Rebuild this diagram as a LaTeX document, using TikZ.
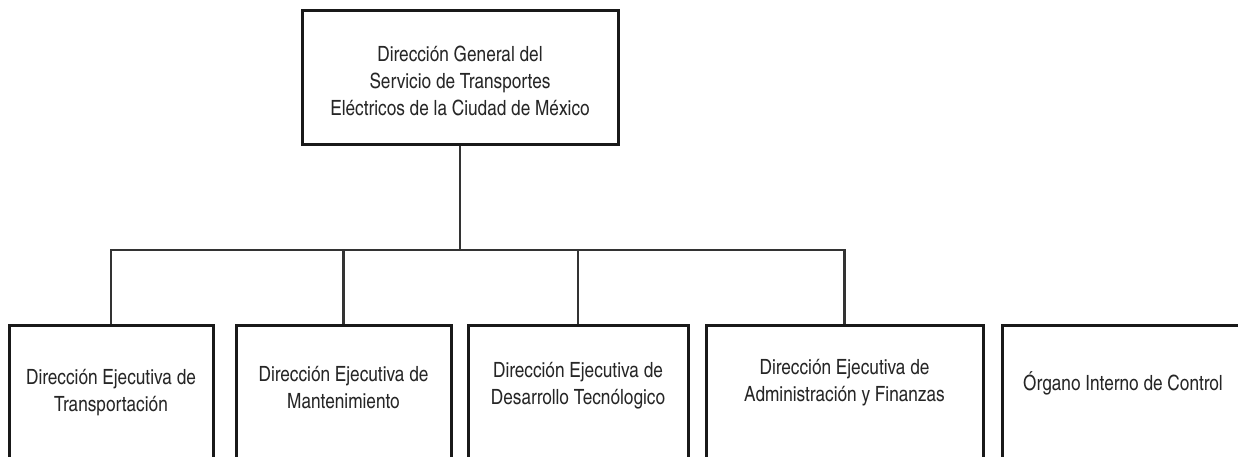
\documentclass[tikz,border=0pt]{standalone}
\usepackage{fontspec}
\setmainfont{texgyreheroscn}[Extension=.otf, UprightFont=*-regular, BoldFont=*-bold]
\usepackage{tikz}
\usetikzlibrary{positioning}

\begin{document}
\begin{tikzpicture}[x=1pt,y=-1pt,
  unitbox/.style={draw=black!90, line width=3pt, minimum height=146pt, anchor=north, inner sep=0pt},
  unittext/.style={align=center, font=\fontsize{21}{27}\selectfont, text=black!85},
  link/.style={draw=black!80, line width=2.3pt}]
\useasboundingbox (0,0) rectangle (1238,457);
\clip (0,0) rectangle (1238,457);
\fill[white] (0,0) rectangle (1238,457);
% direccion general
\node[unitbox, minimum width=316pt, minimum height=134pt] (dg) at (460,9) {};
\node[unittext] (dgtext) at (460,81) {Dirección General del\\Servicio de Transportes\\Eléctricos de la Ciudad de México};
% direcciones ejecutivas
\node[unitbox, minimum width=204pt] (trans) at (111,324) {};
\node[unitbox, minimum width=215pt] (mant) at (343.5,324) {};
\node[unitbox, minimum width=220pt] (desa) at (578,324) {};
\node[unitbox, minimum width=277pt] (admin) at (844.5,324) {};
\node[unitbox, minimum width=243pt] (oic) at (1123.5,324) {};
\node[unittext] (transtext) at (111,393) {Dirección Ejecutiva de\\Transportación};
\node[unittext] (manttext) at (343.5,388) {Dirección Ejecutiva de\\Mantenimiento};
\node[unittext] (desatext) at (578,386) {Dirección Ejecutiva de\\Desarrollo Tecnólogico};
\node[unittext] (admintext) at (844.5,383) {Dirección Ejecutiva de\\Administración y Finanzas};
\node[unittext] (oictext) at (1123,383) {Órgano Interno de Control};
% lineas
\coordinate (bus) at (460,250);
\draw[link] (dg.south) -- (bus);
\draw[link] (bus) -| (trans.north);
\draw[link] (bus) -| (mant.north);
\draw[link] (bus) -| (desa.north);
\draw[link] (bus) -| (admin.north);
\end{tikzpicture}
\end{document}
